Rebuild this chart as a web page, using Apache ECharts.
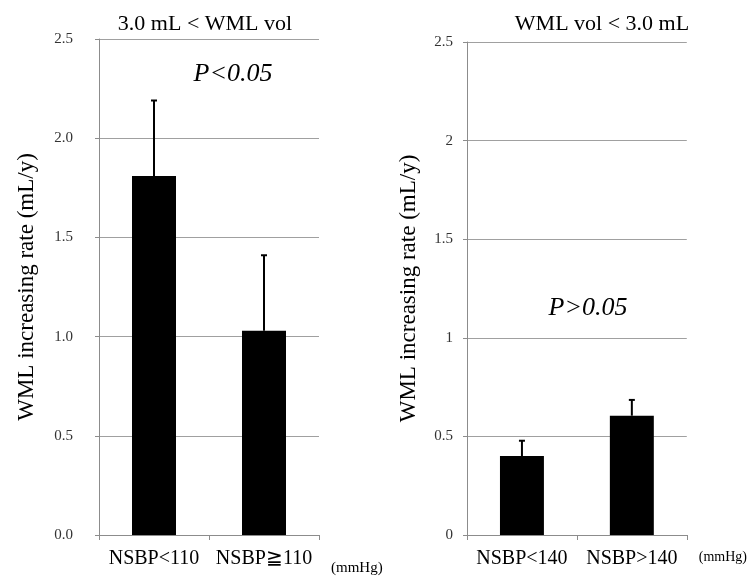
<!DOCTYPE html>
<html>
<head>
<meta charset="utf-8">
<script src="https://cdn.jsdelivr.net/npm/echarts@6/dist/echarts.min.js"></script>
<style>html,body{margin:0;padding:0;background:#fff}#c{width:750px;height:576px}</style>
</head>
<body>
<div id="c"></div>
<script>
// ---- data ----
const leftCategories = ['NSBP<110', 'NSBP\u2267110'];
const leftValues = [1.81, 1.03];
const leftErrors = [0.38, 0.38];
const rightCategories = ['NSBP<140', 'NSBP>140'];
const rightValues = [0.40, 0.605];
const rightErrors = [0.078, 0.08];
const yTicks = [0, 0.5, 1, 1.5, 2, 2.5];
const leftTitle = '3.0 mL < WML vol';
const rightTitle = 'WML vol < 3.0 mL';
const leftP = 'P<0.05';
const rightP = 'P>0.05';
const yName = 'WML increasing rate (mL/y)';
const unitName = '(mmHg)';

const FONT = '"Liberation Serif", "Times New Roman", "DejaVu Serif", serif';

function errorSeries(values, errors, axisIndex) {
  return {
    type: 'custom',
    xAxisIndex: axisIndex,
    yAxisIndex: axisIndex,
    data: values.map((v, i) => [i, v, v + errors[i]]),
    z: 1,
    renderItem: function (params, api) {
      const base = api.coord([api.value(0), api.value(1)]);
      const top = api.coord([api.value(0), api.value(2)]);
      const capHalf = 3;
      const style = { stroke: '#000', lineWidth: 2 };
      return {
        type: 'group',
        children: [
          { type: 'line', shape: { x1: base[0], y1: base[1], x2: top[0], y2: top[1] }, style: style },
          { type: 'line', shape: { x1: top[0] - capHalf, y1: top[1], x2: top[0] + capHalf, y2: top[1] }, style: style }
        ]
      };
    }
  };
}

function yAxis(gridIndex, labelMargin, nameGap, fmt) {
  return {
    type: 'value', gridIndex: gridIndex, min: 0, max: 2.5, interval: 0.5,
    name: yName, nameLocation: 'middle', nameGap: nameGap, nameRotate: 90,
    nameTextStyle: { fontFamily: FONT, fontSize: 23, color: '#000' },
    axisLine: { show: true, lineStyle: { color: '#8c8c8c', width: 1 } },
    axisTick: { show: true, length: 4, lineStyle: { color: '#8c8c8c' } },
    splitLine: { show: true, lineStyle: { color: '#a0a0a0', width: 1 } },
    axisLabel: { margin: labelMargin, fontFamily: FONT, fontSize: 15, color: '#333', formatter: fmt }
  };
}

function xAxis(gridIndex, cats, namePad, nameSize) {
  return {
    type: 'category', gridIndex: gridIndex, data: cats,
    name: unitName, nameLocation: 'end', nameGap: 12,
    nameTextStyle: { fontFamily: FONT, fontSize: nameSize, color: '#000', align: 'left', verticalAlign: 'top', padding: [namePad, 0, 0, 0] },
    axisLine: { show: true, lineStyle: { color: '#8c8c8c', width: 1 } },
    axisTick: { show: true, length: 5, alignWithLabel: false, lineStyle: { color: '#8c8c8c' } },
    splitLine: { show: false },
    axisLabel: { margin: 14, fontFamily: FONT, fontSize: 20, color: '#000', interval: 0 }
  };
}

const chart = echarts.init(document.getElementById('c'), null, { renderer: 'canvas' });
chart.setOption({
  animation: false,
  backgroundColor: '#fff',
  grid: [
    { left: 99, top: 39, width: 220, height: 496 },
    { left: 467, top: 42, width: 229, height: 493 }
  ],
  xAxis: [xAxis(0, leftCategories, 26, 15), xAxis(1, rightCategories, 15, 14)],
  yAxis: [
    yAxis(0, 26, 61, v => v.toFixed(1)),
    yAxis(1, 14, 47, v => String(v))
  ],
  graphic: [
    { type: 'text', x: 205, y: 24, style: { text: leftTitle, font: '22px ' + FONT, fill: '#000', align: 'center', verticalAlign: 'middle' } },
    { type: 'text', x: 602, y: 24, style: { text: rightTitle, font: '22px ' + FONT, fill: '#000', align: 'center', verticalAlign: 'middle' } },
    { type: 'text', x: 233, y: 74, style: { text: leftP, font: 'italic 26px ' + FONT, fill: '#000', align: 'center', verticalAlign: 'middle' } },
    { type: 'text', x: 588, y: 308, style: { text: rightP, font: 'italic 26px ' + FONT, fill: '#000', align: 'center', verticalAlign: 'middle' } }
  ],
  series: [
    { type: 'bar', xAxisIndex: 0, yAxisIndex: 0, data: leftValues, barWidth: '40%', itemStyle: { color: '#000' }, z: 2 },
    errorSeries(leftValues, leftErrors, 0),
    { type: 'bar', xAxisIndex: 1, yAxisIndex: 1, data: rightValues, barWidth: '40%', itemStyle: { color: '#000' }, z: 2 },
    errorSeries(rightValues, rightErrors, 1)
  ]
});
</script>
</body>
</html>
